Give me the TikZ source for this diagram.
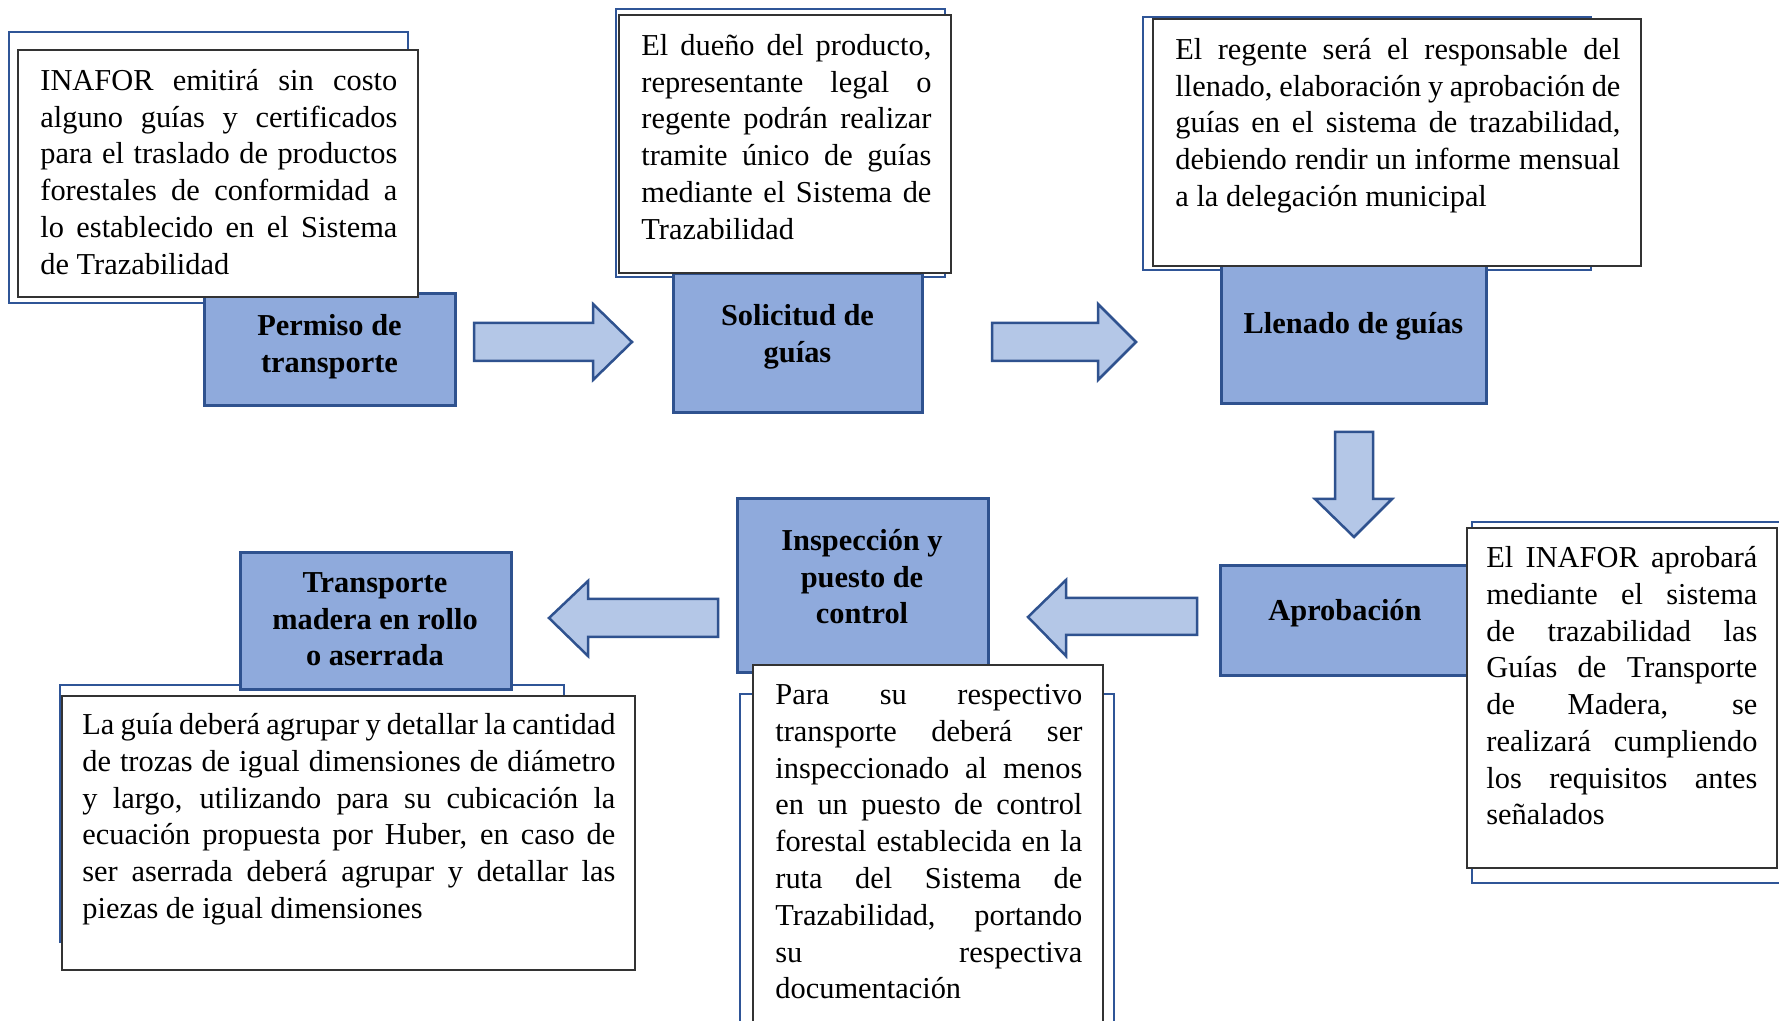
\documentclass[tikz,border=0pt]{standalone}
\usepackage{fontspec}
\setmainfont{Liberation Serif}
\usetikzlibrary{fit}
\definecolor{bfill}{HTML}{8FAADC}
\definecolor{bdark}{HTML}{2F528F}
\definecolor{afill}{HTML}{B4C7E7}
\definecolor{bframe}{HTML}{2F5597}
\newcommand{\J}[1]{\makebox[\hsize][s]{#1}}
\newcommand{\NS}{\spaceskip=0pt\xspaceskip=0pt\relax}
\begin{document}
\begin{tikzpicture}[x=0.5pt,y=-0.5pt,
  frame/.style={draw=bframe, line width=1.25pt, fill=white, inner sep=0pt},
  bluebox/.style={draw=bdark, line width=1.5pt, fill=bfill, inner sep=0pt},
  notebox/.style={draw=black!80, line width=0.75pt, fill=white, inner sep=0pt},
  notetext/.style={anchor=north west, inner sep=0pt, align=left, text width=#1, font=\fontsize{15.2pt}{18.4pt}\selectfont},
  titletext/.style={anchor=north, inner sep=0pt, align=center, font=\fontsize{15.2pt}{18.4pt}\selectfont\bfseries},
  barrow/.style={draw=bdark, line width=1.25pt, fill=afill, line join=miter}
]
\useasboundingbox (0,0) rectangle (1779,1021);
\clip (0,0) rectangle (1779,1021);
\fill[white] (0,0) rectangle (1779,1021);

% back frames
\node[frame, fit={(9,32) (408,303)}] (f1) {};
\node[frame, fit={(616,9) (945,277)}] (f2) {};
\node[frame, fit={(1143,17) (1591,270)}] (f3) {};
\node[frame, fit={(1472,522) (1810,883)}] (f4) {};
\node[frame, fit={(740,694) (1114,1040)}] (f5) {};
\node[frame, fit={(60,685) (564,942)}] (f6) {};

% blue step boxes
\node[bluebox, fit={(204,294) (455,406)}] (permiso) {};
\node[bluebox, fit={(673,274) (922,413)}] (solicitud) {};
\node[bluebox, fit={(1221,266) (1486,404)}] (llenado) {};
\node[bluebox, fit={(1220,566) (1475,675)}] (aprob) {};
\node[bluebox, fit={(737,499) (988,672)}] (insp) {};
\node[bluebox, fit={(240,553) (511,689)}] (transp) {};

% white note boxes
\node[notebox, fit={(18,50) (418,297)}] (n1) {};
\node[notebox, fit={(619,15) (951,273)}] (n2) {};
\node[notebox, fit={(1153,19) (1641,266)}] (n3) {};
\node[notebox, fit={(1467,528) (1777,868)}] (n4) {};
\node[notebox, fit={(753,665) (1103,1040)}] (n5) {};
\node[notebox, fit={(62,696) (635,970)}] (n6) {};

% note texts
\node[notetext=178.5pt] (t1) at (40,64.24) {\NS\noindent\strut\J{INAFOR emitirá sin costo}\\
\J{alguno guías y certificados}\\
\J{para el traslado de productos}\\
\J{forestales de conformidad a}\\
\J{lo establecido en el Sistema}\\
de Trazabilidad};

\node[notetext=145pt] (t2) at (641,29.24) {\NS\noindent\strut\J{El dueño del producto,}\\
\J{representante legal o}\\
\J{regente podrán realizar}\\
\J{tramite único de guías}\\
\J{mediante el Sistema de}\\
Trazabilidad};

\node[notetext=222.5pt] (t3) at (1175,33.24) {\NS\noindent\strut\J{El regente será el responsable del}\\
\J{llenado, elaboración y aprobación de}\\
\J{guías en el sistema de trazabilidad,}\\
\J{debiendo rendir un informe mensual}\\
a la delegación municipal};

\node[notetext=135.5pt] (t4) at (1486,541.24) {\NS\noindent\strut\J{El INAFOR aprobará}\\
\J{mediante el sistema}\\
\J{de trazabilidad las}\\
\J{Guías de Transporte}\\
\J{de Madera, se}\\
\J{realizará cumpliendo}\\
\J{los requisitos antes}\\
señalados};

\node[notetext=153.5pt] (t5) at (775,678.24) {\NS\noindent\strut\J{Para su respectivo}\\
\J{transporte deberá ser}\\
\J{inspeccionado al menos}\\
\J{en un puesto de control}\\
\J{forestal establecida en la}\\
\J{ruta del Sistema de}\\
\J{Trazabilidad, portando}\\
\J{su respectiva}\\
documentación};

\node[notetext=266.5pt] (t6) at (82,708.24) {\NS\noindent\strut\J{La guía deberá agrupar y detallar la cantidad}\\
\J{de trozas de igual dimensiones de diámetro}\\
\J{y largo, utilizando para su cubicación la}\\
\J{ecuación propuesta por Huber, en caso de}\\
\J{ser aserrada deberá agrupar y detallar las}\\
piezas de igual dimensiones};

% step titles
\node[titletext] (h1) at (329.5,309.24) {\strut Permiso de\\transporte};
\node[titletext] (h2) at (797.5,299.24) {\strut Solicitud de\\guías};
\node[titletext] (h3) at (1353.5,307.24) {\strut Llenado de guías};
\node[titletext] (h4) at (1345,594.24) {\strut Aprobación};
\node[titletext] (h5) at (862,524.24) {\strut Inspección y\\puesto de\\control};
\node[titletext] (h6) at (375,566.24) {\strut Transporte\\madera en rollo\\o aserrada};

% block arrows
\draw[barrow] (474,323) -- (593,323) -- (593,304) -- (632,342) -- (593,380) -- (593,361) -- (474,361) -- cycle;
\draw[barrow] (992,323) -- (1098,323) -- (1098,304) -- (1136,342) -- (1098,380) -- (1098,361) -- (992,361) -- cycle;
\draw[barrow] (1335,432) -- (1373,432) -- (1373,499) -- (1392,499) -- (1354,537) -- (1315,499) -- (1335,499) -- cycle;
\draw[barrow] (1197,598) -- (1066,598) -- (1066,580) -- (1028,617) -- (1066,656) -- (1066,635) -- (1197,635) -- cycle;
\draw[barrow] (718,599) -- (588,599) -- (588,581) -- (549,618) -- (588,656) -- (588,637) -- (718,637) -- cycle;
\end{tikzpicture}
\end{document}
